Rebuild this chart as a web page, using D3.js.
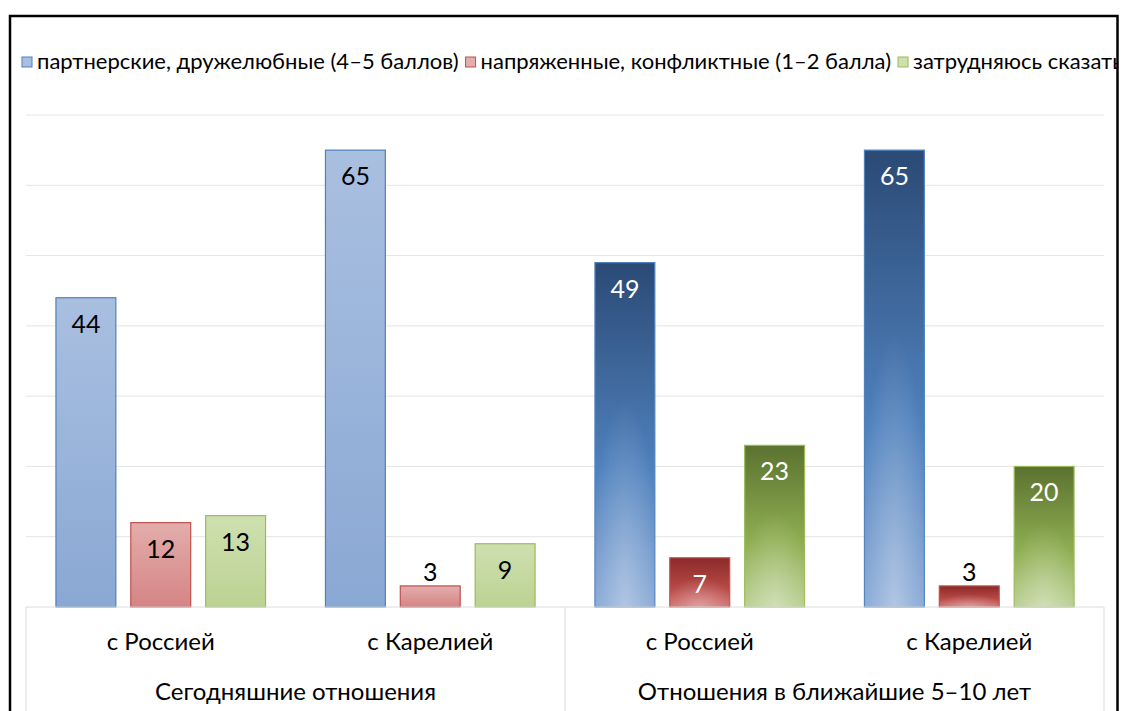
<!DOCTYPE html>
<html lang="ru">
	<head>
		<meta charset="utf-8">
		<title>Отношения</title>
		<script src="https://d3js.org/d3.v7.min.js"></script>
		<style>
			body { margin: 0; background: #fff; }
			text { font-family: Lato, "Open Sans", sans-serif; }
		</style>
	</head>
	<body>
		<script type="text/javascript">

			//    Data
			var groups = ["Сегодняшние отношения", "Отношения в ближайшие 5–10 лет"];
			var categories = ["с Россией", "с Карелией", "с Россией", "с Карелией"];
			var series = ["партнерские, дружелюбные (4–5 баллов)", "напряженные, конфликтные (1–2 балла)", "затрудняюсь сказать"];
			var friendly = [44, 65, 49, 65];
			var tense = [12, 3, 7, 3];
			var unsure = [13, 9, 23, 20];
			var yTicks = [0, 10, 20, 30, 40, 50, 60, 70];

			var values = [friendly, tense, unsure];

			//    Size of svg
			var w = 1121;
			var h = 711;
			var plotLeft = 26, plotRight = 1104, plotTop = 115, plotBase = 607;

			var svg = d3.select("body").append("svg").attr("width", w).attr("height", h);
			var defs = svg.append("defs");

			//    Gradients: light fill for today, dark for future
			var light = [["#a9bfe0", "#8aa8d4"], ["#e3adac", "#d48584"], ["#cfe0b0", "#bbd292"]];
			var dark = [["#2b4a75", "#4f81bd", "#86a7d5"], ["#8a2a29", "#b64845", "#cf6e6b"], ["#5b7230", "#8fae52", "#b7ce8f"]];
			var strokes = ["#4f81bd", "#c0504d", "#9bbb59"];

			light.forEach(function(c, i) {
				var g = defs.append("linearGradient").attr("id", "lg" + i)
					.attr("x1", 0).attr("y1", 0).attr("x2", 0).attr("y2", 1);
				g.append("stop").attr("offset", "0%").attr("stop-color", c[0]);
				g.append("stop").attr("offset", "100%").attr("stop-color", c[1]);
			});
			dark.forEach(function(c, i) {
				var g = defs.append("linearGradient").attr("id", "dg" + i)
					.attr("x1", 0).attr("y1", 0).attr("x2", 0).attr("y2", 1);
				g.append("stop").attr("offset", "0%").attr("stop-color", c[0]);
				g.append("stop").attr("offset", "60%").attr("stop-color", c[1]);
				g.append("stop").attr("offset", "100%").attr("stop-color", c[2]);
			});
			var rg = defs.append("radialGradient").attr("id", "glow")
				.attr("cx", 0.5).attr("cy", 1).attr("r", 0.6);
			rg.append("stop").attr("offset", "0%").attr("stop-color", "#fff").attr("stop-opacity", 0.35);
			rg.append("stop").attr("offset", "100%").attr("stop-color", "#fff").attr("stop-opacity", 0);

			defs.append("clipPath").attr("id", "frame")
				.append("rect").attr("x", 11).attr("y", 17).attr("width", 1106).attr("height", 700);

			var chart = svg.append("g").attr("clip-path", "url(#frame)");

			//    Scales
			var xScale = d3.scaleBand()
				.domain(d3.range(categories.length))
				.range([plotLeft, plotRight]);

			var xInner = d3.scaleBand()
				.domain(d3.range(series.length))
				.range([0, xScale.bandwidth()])
				.paddingInner(0.2)
				.paddingOuter(0.4);

			var yScale = d3.scaleLinear()
				.domain([0, 70])
				.range([plotBase, plotTop]);

			//    Gridlines
			chart.selectAll(".grid")
				.data(yTicks.slice(1))
				.enter()
				.append("line")
				.attr("x1", plotLeft).attr("x2", plotRight)
				.attr("y1", function(d) { return yScale(d); })
				.attr("y2", function(d) { return yScale(d); })
				.attr("stroke", "#e4e4e4").attr("stroke-width", 1);

			//    Bars
			var barData = [];
			values.forEach(function(arr, s) {
				arr.forEach(function(v, c) {
					barData.push({s: s, c: c, v: v});
				});
			});

			var bars = chart.selectAll(".bar")
				.data(barData)
				.enter()
				.append("g");

			bars.append("rect")
				.attr("x", function(d) { return xScale(d.c) + xInner(d.s); })
				.attr("y", function(d) { return yScale(d.v); })
				.attr("width", xInner.bandwidth())
				.attr("height", function(d) { return plotBase - yScale(d.v); })
				.attr("fill", function(d) { return d.c < 2 ? "url(#lg" + d.s + ")" : "url(#dg" + d.s + ")"; })
				.attr("stroke", function(d) { return strokes[d.s]; })
				.attr("stroke-width", 1.2);

			bars.filter(function(d) { return d.c >= 2; })
				.append("rect")
				.attr("x", function(d) { return xScale(d.c) + xInner(d.s); })
				.attr("y", function(d) { return yScale(d.v); })
				.attr("width", xInner.bandwidth())
				.attr("height", function(d) { return plotBase - yScale(d.v); })
				.attr("fill", "url(#glow)");

			//    Value labels
			bars.append("text")
				.attr("x", function(d) { return xScale(d.c) + xInner(d.s) + xInner.bandwidth() / 2; })
				.attr("y", function(d) {
					return d.v < 5 ? yScale(d.v) - 5 : yScale(d.v) + 35;
				})
				.attr("text-anchor", "middle")
				.attr("font-size", 25)
				.attr("fill", function(d) { return (d.c >= 2 && d.v >= 5) ? "#fff" : "#000"; })
				.text(function(d) { return d.v; });

			//    Category axis
			chart.append("line")
				.attr("x1", plotLeft).attr("x2", plotRight)
				.attr("y1", plotBase).attr("y2", plotBase)
				.attr("stroke", "#dcdcdc");

			chart.selectAll(".sep")
				.data([0, 2, 4])
				.enter()
				.append("line")
				.attr("x1", function(d) { return d < 4 ? xScale(d) : plotRight; })
				.attr("x2", function(d) { return d < 4 ? xScale(d) : plotRight; })
				.attr("y1", plotBase).attr("y2", h)
				.attr("stroke", "#dcdcdc");

			chart.selectAll(".cat")
				.data(categories)
				.enter()
				.append("text")
				.attr("x", function(d, i) { return xScale(i) + xScale.bandwidth() / 2; })
				.attr("y", 650)
				.attr("text-anchor", "middle")
				.attr("font-size", 24)
				.attr("fill", "#000")
				.text(function(d) { return d; });

			chart.selectAll(".grp")
				.data(groups)
				.enter()
				.append("text")
				.attr("x", function(d, i) { return xScale(i * 2 + 1); })
				.attr("y", 700)
				.attr("text-anchor", "middle")
				.attr("font-size", 24)
				.attr("fill", "#000")
				.text(function(d) { return d; });

			//    Legend
			var lx = 22;
			series.forEach(function(name, i) {
				chart.append("rect")
					.attr("x", lx).attr("y", 57)
					.attr("width", 10).attr("height", 10)
					.attr("fill", light[i][0])
					.attr("stroke", strokes[i]);
				var t = chart.append("text")
					.attr("x", lx + 15).attr("y", 69)
					.attr("font-size", 22)
					.attr("fill", "#000")
					.text(name);
				lx += 15 + t.node().getComputedTextLength() + 7;
			});

			//    Frame
			svg.append("rect")
				.attr("x", 10).attr("y", 16)
				.attr("width", 1107.5).attr("height", 720)
				.attr("fill", "none")
				.attr("stroke", "#000")
				.attr("stroke-width", 2.5);

		</script>
	</body>
</html>
